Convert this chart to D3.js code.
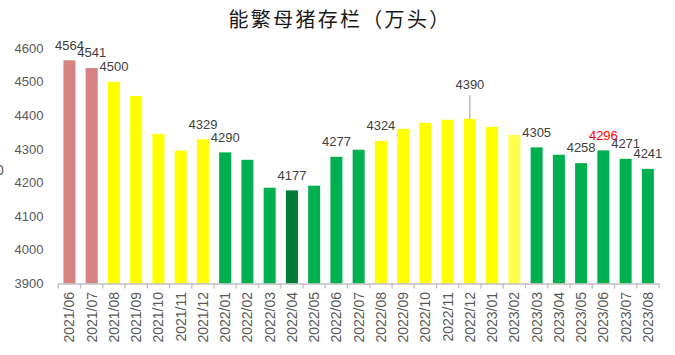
<!DOCTYPE html>
<html><head><meta charset="utf-8">
<script src="https://cdn.jsdelivr.net/npm/d3@7"></script>
<style>body{margin:0;background:#fff;}svg{display:block;}</style>
</head><body>
<svg id="c" width="675" height="355"></svg>
<script>
const categories = ["2021/06","2021/07","2021/08","2021/09","2021/10","2021/11","2021/12","2022/01","2022/02","2022/03","2022/04","2022/05","2022/06","2022/07","2022/08","2022/09","2022/10","2022/11","2022/12","2023/01","2023/02","2023/03","2023/04","2023/05","2023/06","2023/07","2023/08"];
const values = [4564,4541,4500,4458,4345,4295,4329,4290,4268,4185,4177,4191,4277,4298,4324,4360,4378,4387,4390,4366,4342,4305,4283,4258,4296,4271,4241];
const colors = ["#D48282","#D48282","#FFFF00","#FFFF00","#FFFF00","#FFFF00","#FFFF00","#00B050","#00B050","#00B050","#007A37","#00B050","#00B050","#00B050","#FFFF00","#FFFF00","#FFFF00","#FFFF00","#FFFF00","#FFFF00","#FFFF4D","#00B050","#00B050","#00B050","#00B050","#00B050","#00B050"];
const labeled = ["2021/06","2021/07","2021/08","2021/12","2022/01","2022/04","2022/06","2022/08","2022/12","2023/03","2023/05","2023/06","2023/07","2023/08"];
const redLabel = ["2023/06"];
const raisedLabel = ["2022/12"];
const yTicks = [3900,4000,4100,4200,4300,4400,4500,4600];
const title = "能繁母猪存栏（万头）";

const svg = d3.select("#c");
const x = d3.scaleBand().domain(categories).range([58.3, 659]).paddingInner(0.46).paddingOuter(0.23);
const y = d3.scaleLinear().domain([3900, 4600]).range([283.5, 48.2]);

svg.append("text").attr("x", 340).attr("y", 18).attr("text-anchor", "middle")
  .attr("dominant-baseline", "central")
  .style("font-family", "'Noto Sans CJK SC'").style("font-size", "20px")
  .style("letter-spacing", "2.3px").attr("fill", "#1a1a1a").text(title);

// cut-off glyph at left edge
svg.append("text").attr("x", -4).attr("y", 175).style("font-family","'Liberation Sans'")
  .style("font-size","14px").attr("fill","#595959").text("0");

// y axis labels
svg.append("g").selectAll("text").data(yTicks).join("text")
  .attr("x", 43.5).attr("y", d => y(d)).attr("text-anchor", "end").attr("dominant-baseline", "central")
  .style("font-family", "'Liberation Sans'").style("font-size", "13px").attr("fill", "#595959")
  .text(d => d);

// bars
const data = categories.map((c, i) => ({c, v: values[i], col: colors[i]}));
svg.append("g").selectAll("rect").data(data).join("rect")
  .attr("x", d => x(d.c)).attr("width", x.bandwidth())
  .attr("y", d => y(d.v)).attr("height", d => y(3900) - y(d.v))
  .attr("fill", d => d.col);

// x axis
const xAxis = d3.axisBottom(x).tickSize(0).tickFormat("");
const gx = svg.append("g").attr("transform", `translate(0,${y(3900)})`).call(xAxis);
gx.select(".domain").attr("stroke", "#BFBFBF").attr("stroke-width", 1.3);
const step = x.step();
const bounds = d3.range(categories.length + 1).map(i => 58.3 + i * step);
gx.selectAll(".bt").data(bounds).join("line").attr("class","bt")
  .attr("x1", d => d).attr("x2", d => d).attr("y1", 0).attr("y2", 5)
  .attr("stroke", "#BFBFBF").attr("stroke-width", 1.3);
svg.append("g").selectAll("text").data(categories).join("text")
  .attr("transform", d => `translate(${x(d) + x.bandwidth()/2},292) rotate(-90)`)
  .attr("text-anchor", "end").attr("dominant-baseline", "central")
  .style("font-family", "'Liberation Sans'").style("font-size", "14px").attr("fill", "#595959")
  .text(d => d);

// data labels
const lab = data.filter(d => labeled.includes(d.c));
const g = svg.append("g");
lab.forEach(d => {
  const cx = x(d.c) + x.bandwidth()/2;
  const raised = raisedLabel.includes(d.c);
  const ly = y(d.v) - (raised ? 34.7 : 15.2);
  if (raised) {
    g.append("line").attr("x1", cx).attr("x2", cx).attr("y1", ly + 11).attr("y2", y(d.v))
      .attr("stroke", "#7f7f7f").attr("stroke-width", 0.8);
  }
  g.append("text").attr("x", cx).attr("y", ly).attr("text-anchor", "middle").attr("dominant-baseline", "central")
    .style("font-family", "'Liberation Sans'").style("font-size", "13px")
    .attr("fill", redLabel.includes(d.c) ? "#FF0000" : "#404040").text(d.v);
});
</script>
</body></html>
